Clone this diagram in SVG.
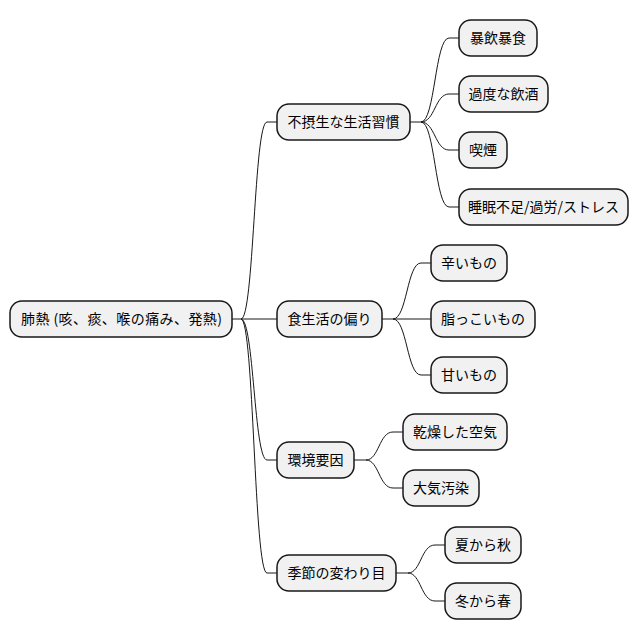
<svg xmlns="http://www.w3.org/2000/svg" width="639" height="640" viewBox="0 0 639 640">
<style>
.box{fill:#F1F1F1;stroke:#181818;stroke-width:1.5}
.lbl{font-family:"Noto Sans CJK JP","Noto Sans",sans-serif;font-size:14px;fill:#000;text-anchor:middle}
.con path{fill:none;stroke:#181818;stroke-width:1}
</style>
<rect width="639" height="640" fill="#FFFFFF"/>
<g class="con" id="connectors">
<path d="M232,319 H241 M241,319 C254,319 254,122 267,122 H277 M241,319 H277 M241,319 C254,319 254,460 267,460 H277 M241,319 C254,319 254,573 267,573 H277"/>
<path d="M410,122 H421 M421,122 C435,122 435,38 449,38 H459 M421,122 C435,122 435,94 449,94 H459 M421,122 C435,122 435,150 449,150 H459 M421,122 C435,122 435,207 449,207 H459"/>
<path d="M382,319 H393 M393,319 C407,319 407,263 421,263 H431 M393,319 H431 M393,319 C407,319 407,375 421,375 H431"/>
<path d="M354,460 H366 M366,460 C379,460 379,432 393,432 H403 M366,460 C379,460 379,488 393,488 H403"/>
<path d="M396,573 H408 M408,573 C421,573 421,545 435,545 H445 M408,573 C421,573 421,601 435,601 H445"/>
</g>
<g id="root"><rect class="box" x="10" y="301" width="222" height="36" rx="12"/><text class="lbl" x="21" y="324" style="text-anchor:start" textLength="201" lengthAdjust="spacing">肺熱 (咳、痰、喉の痛み、発熱)</text></g>
<g id="n1"><rect class="box" x="277" y="104" width="133" height="36" rx="12"/><text class="lbl" x="343.5" y="127">不摂生な生活習慣</text></g>
<g id="n1a"><rect class="box" x="459" y="20" width="78" height="36" rx="12"/><text class="lbl" x="498" y="43">暴飲暴食</text></g>
<g id="n1b"><rect class="box" x="459" y="76" width="89" height="36" rx="12"/><text class="lbl" x="503.5" y="99">過度な飲酒</text></g>
<g id="n1c"><rect class="box" x="459" y="132" width="48" height="36" rx="12"/><text class="lbl" x="483" y="155">喫煙</text></g>
<g id="n1d"><rect class="box" x="459" y="189" width="169" height="36" rx="12"/><text class="lbl" x="543.5" y="212">睡眠不足/過労/ストレス</text></g>
<g id="n2"><rect class="box" x="277" y="301" width="105" height="36" rx="12"/><text class="lbl" x="329.5" y="324">食生活の偏り</text></g>
<g id="n2a"><rect class="box" x="431" y="245" width="76" height="36" rx="12"/><text class="lbl" x="469" y="268">辛いもの</text></g>
<g id="n2b"><rect class="box" x="431" y="301" width="104" height="36" rx="12"/><text class="lbl" x="483" y="324">脂っこいもの</text></g>
<g id="n2c"><rect class="box" x="431" y="357" width="76" height="36" rx="12"/><text class="lbl" x="469" y="380">甘いもの</text></g>
<g id="n3"><rect class="box" x="277" y="442" width="77" height="36" rx="12"/><text class="lbl" x="315.5" y="465">環境要因</text></g>
<g id="n3a"><rect class="box" x="403" y="414" width="104" height="36" rx="12"/><text class="lbl" x="455" y="437">乾燥した空気</text></g>
<g id="n3b"><rect class="box" x="403" y="470" width="76" height="36" rx="12"/><text class="lbl" x="441" y="493">大気汚染</text></g>
<g id="n4"><rect class="box" x="277" y="555" width="119" height="36" rx="12"/><text class="lbl" x="336.5" y="578">季節の変わり目</text></g>
<g id="n4a"><rect class="box" x="445" y="527" width="76" height="36" rx="12"/><text class="lbl" x="483" y="550">夏から秋</text></g>
<g id="n4b"><rect class="box" x="445" y="583" width="76" height="36" rx="12"/><text class="lbl" x="483" y="606">冬から春</text></g>
</svg>
